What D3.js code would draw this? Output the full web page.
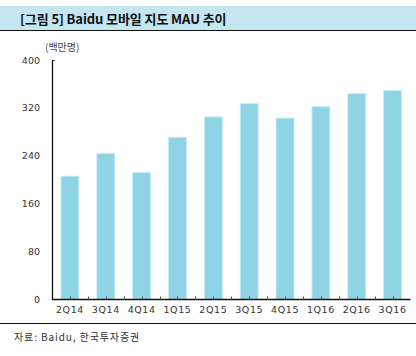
<!DOCTYPE html>
<html><head><meta charset="utf-8">
<script src="https://cdn.jsdelivr.net/npm/d3@7"></script>
<style>
html,body{margin:0;padding:0;background:#fff;}
svg{display:block;}
</style></head>
<body>
<svg id="c" width="416" height="356" font-family="'Noto Sans CJK KR','DejaVu Sans',sans-serif"></svg>
<script>
const categories = ["2Q14","3Q14","4Q14","1Q15","2Q15","3Q15","4Q15","1Q16","2Q16","3Q16"];
const values = [206, 244, 212, 271, 305, 327, 303, 322, 344, 349];
const yTicks = [0, 80, 160, 240, 320, 400];
const titleText = "[그림 5] Baidu 모바일 지도 MAU 추이";
const unitText = "(백만명)";
const sourceText = "자료: Baidu, 한국투자증권";

const svg = d3.select("#c");
const x0 = 52, x1 = 410.5, yTop = 60, yBot = 299.5;
const numFont = "'DejaVu Sans',sans-serif";

// title band
svg.append("rect").attr("x",0).attr("y",6).attr("width",416).attr("height",24).attr("fill","#c4e6f1");
svg.append("text").attr("x",20).attr("y",23.5).attr("font-size",13).attr("font-weight","bold")
  .attr("fill","#111").attr("letter-spacing","-0.1").text(titleText);
svg.append("line").attr("x1",0).attr("x2",416).attr("y1",30.5).attr("y2",30.5).attr("stroke","#111").attr("stroke-width",1.2);
svg.append("line").attr("x1",0).attr("x2",416).attr("y1",323.5).attr("y2",323.5).attr("stroke","#111").attr("stroke-width",1.2);
svg.append("text").attr("x",14).attr("y",341).attr("font-size",10).attr("fill","#333")
  .attr("letter-spacing","0.9").text(sourceText);

const x = d3.scaleBand().domain(categories).range([x0, x1]).paddingInner(0.5).paddingOuter(0.25);
const y = d3.scaleLinear().domain([0,400]).range([yBot, yTop]);

// bars
svg.append("g").selectAll("rect").data(values).join("rect")
  .attr("x",(d,i)=>x(categories[i])).attr("width",x.bandwidth())
  .attr("y",d=>y(d)).attr("height",d=>yBot-y(d))
  .attr("fill","#8fd4e5").attr("stroke","#c9ebf3").attr("stroke-width",0.8);

// y axis
const ya = svg.append("g").attr("transform",`translate(${x0},0)`)
  .call(d3.axisLeft(y).tickValues(yTicks).tickSize(0).tickPadding(12));
ya.attr("font-family",numFont).attr("font-size",9.5);
ya.select(".domain").attr("stroke","#111").attr("stroke-width",1.3);
ya.selectAll("text").attr("fill","#333");
svg.append("line").attr("x1",x0).attr("x2",x0+2.5).attr("y1",yTop+0.5).attr("y2",yTop+0.5).attr("stroke","#111");
svg.append("text").attr("x",45).attr("y",51).attr("font-size",10).attr("fill","#444").text(unitText);

// x axis
const step = x.step();
const xa = svg.append("g").attr("transform",`translate(0,${yBot})`)
  .call(d3.axisBottom(x).tickSize(0).tickPadding(7));
xa.attr("font-family",numFont).attr("font-size",9.5);
xa.select(".domain").remove();
xa.selectAll("text").attr("fill","#333").attr("letter-spacing","0.6");
svg.append("line").attr("x1",x0).attr("x2",x1).attr("y1",yBot).attr("y2",yBot).attr("stroke","#111").attr("stroke-width",1.3);
// small inward ticks at centers and boundaries
const tickXs = [];
categories.forEach(c=>{ tickXs.push(x(c)+x.bandwidth()/2); });
for(let i=1;i<categories.length;i++) tickXs.push(x(categories[i]) - (step - x.bandwidth())/2);
svg.append("g").selectAll("line").data(tickXs).join("line")
  .attr("x1",d=>Math.round(d)+0.5).attr("x2",d=>Math.round(d)+0.5)
  .attr("y1",yBot).attr("y2",yBot-3).attr("stroke","#555").attr("stroke-width",1);
</script>
</body></html>
